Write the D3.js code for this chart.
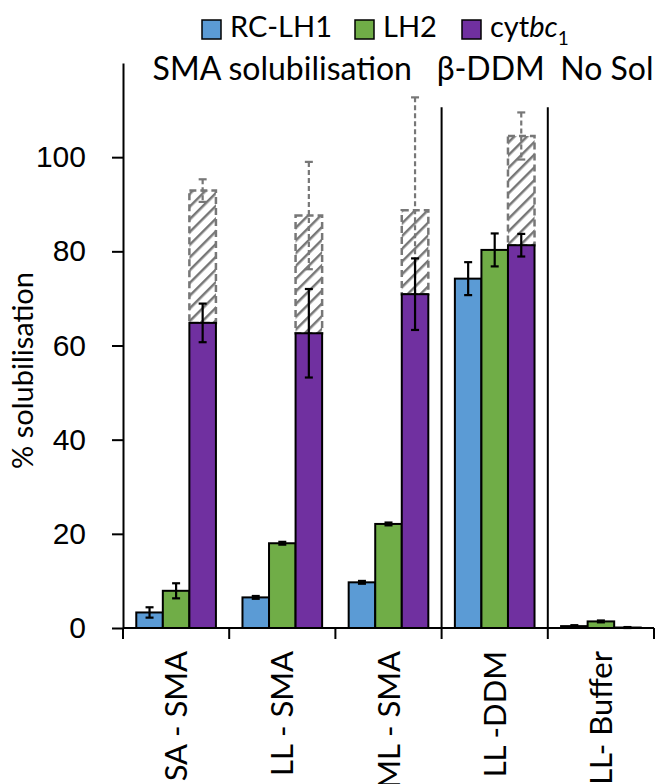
<!DOCTYPE html>
<html>
<head>
<meta charset="utf-8">
<script src="https://cdn.jsdelivr.net/npm/d3@7"></script>
<style>
  body { margin: 0; background: #fff; }
  svg { font-family: Lato, "Noto Sans", sans-serif; }
</style>
</head>
<body>
<div id="chart"></div>
<script>
// samples on the x axis
var categories = ["SA - SMA", "LL - SMA", "ML - SMA", "LL -DDM", "LL- Buffer"]
var seriesNames = ["RC-LH1", "LH2", "cytbc1"]
var seriesColors = ["#5b9bd5", "#70ad47", "#7030a0"]

// % solubilisation
var rcLh1 = [3.3, 6.5, 9.7, 74.2, 0.4]
var rcLh1Err = [1.1, 0.3, 0.3, 3.5, 0.2]
var lh2 = [7.9, 18.0, 22.1, 80.3, 1.4]
var lh2Err = [1.6, 0.3, 0.3, 3.5, 0.2]
var cyt = [64.8, 62.6, 70.9, 81.3, 0.1]
var cytErr = [4.1, 9.4, 7.6, 2.4, 0.1]
// hatched part on top of cytbc1 (total height)
var cytTotal = [92.9, 87.6, 88.7, 104.5, null]
var cytTotalErr = [2.4, 11.4, 24.0, 5.0, null]

var yTicks = [0, 20, 40, 60, 80, 100]

// group headers over the bars
var groups = [
  {label: "SMA solubilisation", from: 0, to: 2, shift: 0},
  {label: "β-DDM", from: 3, to: 3, shift: -4},
  {label: "No Sol", from: 4, to: 4, shift: 6}
]
var dividerTop = 110.6

var width = 657, height = 784
var margin = {left: 123, right: 3, top: 63, bottom: 156}

var svg = d3.select("#chart").append("svg")
  .attr("width", width).attr("height", height)

var defs = svg.append("defs")
var pat = defs.append("pattern")
  .attr("id", "hatch")
  .attr("patternUnits", "userSpaceOnUse")
  .attr("width", 9).attr("height", 9)
  .attr("patternTransform", "rotate(45)")
pat.append("line")
  .attr("x1", 0).attr("y1", 0).attr("x2", 0).attr("y2", 9)
  .attr("stroke", "#777").attr("stroke-width", 5)

var x0 = d3.scaleBand().domain(categories)
  .range([margin.left, width - margin.right])
var x1 = d3.scaleBand().domain(seriesNames)
  .range([0, x0.bandwidth()]).paddingOuter(0.5)
var y = d3.scaleLinear().domain([0, 120])
  .range([height - margin.bottom, margin.top])

var series = [
  {name: seriesNames[0], vals: rcLh1, errs: rcLh1Err, color: seriesColors[0]},
  {name: seriesNames[1], vals: lh2, errs: lh2Err, color: seriesColors[1]},
  {name: seriesNames[2], vals: cyt, errs: cytErr, color: seriesColors[2]}
]

var plot = svg.append("g")

// hatched part first, so the purple bar sits over its dashed error bar
var hatched = categories.map(function(c, i) {
  return {cat: c, top: cytTotal[i], bottom: cyt[i], err: cytTotalErr[i]}
}).filter(function(d) { return d.top != null })

plot.selectAll("rect.hatch").data(hatched).enter().append("rect")
  .attr("class", "hatch")
  .attr("x", function(d) { return x0(d.cat) + x1("cytbc1") })
  .attr("width", x1.bandwidth())
  .attr("y", function(d) { return y(d.top) })
  .attr("height", function(d) { return y(d.bottom) - y(d.top) })
  .attr("fill", "url(#hatch)")
  .attr("stroke", "#777").attr("stroke-width", 2.5)
  .attr("stroke-dasharray", "7,4")

function errorBars(sel, data, color, dash) {
  var g = sel.selectAll(null).data(data).enter().append("g")
    .attr("stroke", color).attr("stroke-width", 2.2)
  g.append("line")
    .attr("x1", function(d) { return d.cx }).attr("x2", function(d) { return d.cx })
    .attr("y1", function(d) { return y(d.v + d.e) })
    .attr("y2", function(d) { return y(d.v - d.e) })
    .attr("stroke-dasharray", dash)
  ;[1, -1].forEach(function(s) {
    g.append("line")
      .attr("x1", function(d) { return d.cx - 4 }).attr("x2", function(d) { return d.cx + 4 })
      .attr("y1", function(d) { return y(d.v + s * d.e) })
      .attr("y2", function(d) { return y(d.v + s * d.e) })
  })
}

errorBars(plot, hatched.map(function(d) {
  return {cx: x0(d.cat) + x1("cytbc1") + x1.bandwidth() / 2, v: d.top, e: d.err}
}), "#777", "5,3")

series.forEach(function(s) {
  var data = categories.map(function(c, i) { return {cat: c, v: s.vals[i], e: s.errs[i]} })
  plot.selectAll(null).data(data).enter().append("rect")
    .attr("x", function(d) { return x0(d.cat) + x1(s.name) })
    .attr("width", x1.bandwidth())
    .attr("y", function(d) { return y(d.v) })
    .attr("height", function(d) { return y(0) - y(d.v) })
    .attr("fill", s.color)
    .attr("stroke", "#000").attr("stroke-width", 2)
})

series.forEach(function(s) {
  var data = categories.map(function(c, i) {
    return {cx: x0(c) + x1(s.name) + x1.bandwidth() / 2, v: s.vals[i], e: s.errs[i]}
  })
  errorBars(plot, data, "#000", null)
})

// dividers between detergent groups
var dividers = [categories[3], categories[4]]
svg.selectAll("line.div").data(dividers).enter().append("line")
  .attr("x1", function(d) { return x0(d) }).attr("x2", function(d) { return x0(d) })
  .attr("y1", y(dividerTop)).attr("y2", y(0))
  .attr("stroke", "#000").attr("stroke-width", 2)

// y axis
var yAxis = svg.append("g")
  .attr("transform", "translate(" + margin.left + ",0)")
  .call(d3.axisLeft(y).tickValues(yTicks).tickSize(11).tickPadding(26).tickSizeOuter(0))
yAxis.select(".domain").attr("stroke-width", 2)
yAxis.selectAll(".tick line").attr("stroke-width", 2)
yAxis.selectAll("text").attr("font-size", 30).attr("fill", "#000")

// x axis: ticks on category boundaries
var bounds = categories.map(function(c) { return x0(c) }).concat([x0.range()[1]])
var xAxis = svg.append("g")
xAxis.append("line")
  .attr("x1", x0.range()[0]).attr("x2", x0.range()[1])
  .attr("y1", y(0)).attr("y2", y(0))
  .attr("stroke", "#000").attr("stroke-width", 2)
xAxis.selectAll("line.tk").data(bounds).enter().append("line")
  .attr("x1", function(d) { return d }).attr("x2", function(d) { return d })
  .attr("y1", y(0)).attr("y2", y(0) + 11)
  .attr("stroke", "#000").attr("stroke-width", 2)
xAxis.selectAll("text").data(categories).enter().append("text")
  .attr("transform", function(d) {
    return "translate(" + (x0(d) + x0.bandwidth() / 2) + "," + (y(0) + 23) + ") rotate(-90)"
  })
  .attr("dy", "0.36em")
  .attr("text-anchor", "end")
  .attr("font-size", 31)
  .text(function(d) { return d })

// y title
svg.append("text")
  .attr("transform", "translate(23," + ((y(0) + y(120)) / 2 + 25) + ") rotate(-90)")
  .attr("dy", "0.35em")
  .attr("text-anchor", "middle")
  .attr("font-size", 29)
  .text("% solubilisation")

// group headers
svg.selectAll("text.grp").data(groups).enter().append("text")
  .attr("x", function(d) {
    return (x0(categories[d.from]) + x0(categories[d.to]) + x0.bandwidth()) / 2 + d.shift
  })
  .attr("y", 80)
  .attr("text-anchor", "middle")
  .attr("font-size", 32)
  .text(function(d) { return d.label })

// legend
var legendX = [202, 355, 462]
var leg = svg.selectAll("g.leg").data(series).enter().append("g")
  .attr("transform", function(d, i) { return "translate(" + legendX[i] + ",20)" })
leg.append("rect")
  .attr("width", 19).attr("height", 19)
  .attr("fill", function(d) { return d.color })
  .attr("stroke", "#000").attr("stroke-width", 1.5)
var legText = leg.append("text")
  .attr("x", 28).attr("y", 17)
  .attr("font-size", 29)
legText.filter(function(d) { return d.name != "cytbc1" })
  .text(function(d) { return d.name })
var cytLabel = legText.filter(function(d) { return d.name == "cytbc1" })
cytLabel.append("tspan").text("cyt")
cytLabel.append("tspan").attr("font-style", "italic").text("bc")
cytLabel.append("tspan").attr("font-size", 19).attr("dy", 8).text("1")
</script>
</body>
</html>
